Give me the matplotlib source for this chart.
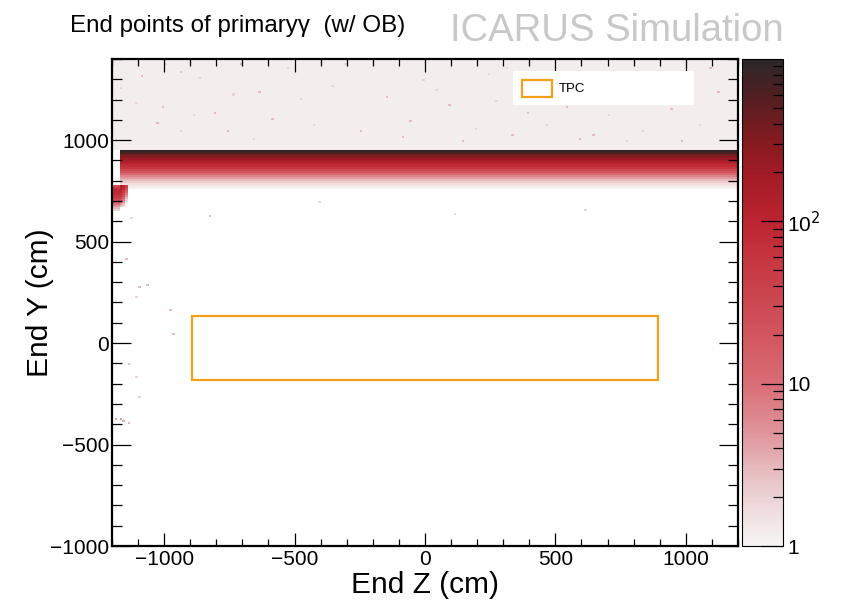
import numpy as np
import matplotlib
matplotlib.use("Agg")
import matplotlib.pyplot as plt
from matplotlib.colors import LinearSegmentedColormap, LogNorm
from matplotlib.patches import Rectangle
from matplotlib.ticker import MultipleLocator, LogLocator, NullFormatter

plt.rcParams['font.family'] = ['Liberation Sans', 'DejaVu Sans']

# ---------------- data ----------------
z_range = (-1200, 1200)
y_range = (-1000, 1400)
z_bin = 10
y_bin = 10

# main band along the top (counts per row, z from band_z_start to end)
band_z_start = -1170
band_row_y = [945, 935, 925, 915, 905, 895, 885, 875, 865, 855,
              845, 835, 825, 815, 805, 795, 785, 775, 765]
band_row_counts = [900, 650, 380, 290, 220, 160, 120, 80, 55, 32,
                   20, 12, 7, 4.5, 3, 2.2, 1.6, 1.3, 1.1]

# vertical part of band at left edge
col_z = [-1165, -1155, -1145]
col_row_y = [775, 765, 755, 745, 735, 725, 715, 705, 695, 685, 675]
col_counts = [[150, 140, 120, 100, 80, 60, 40, 25, 12, 6, 3],
              [100, 90, 70, 50, 35, 25, 15, 8, 5, 3, 2],
              [40, 30, 20, 12, 8, 5, 3, 2, 1.5, 1, 1]]

# stub at the very left
stub_z = [-1195, -1185, -1175]
stub_row_y = [775, 765, 755, 745, 735, 725, 715, 705, 695, 685, 675, 665, 655]
stub_counts = [30, 60, 90, 90, 80, 60, 45, 30, 18, 10, 5, 3, 2]

# sparse halo above the band (mean counts per bin)
halo_y_low = 950
halo_count = 1.2

# visible speckles (z, y, counts)
speck_z = [-932, -862, -1080, -735, -632, -1100, -1003, -881, -805, -651,
           -582, -479, -352, -249, -429, -146, -529, -759, -939, -1027,
           -1169, 395, 467, 544, 701, 644, 835, 950, 1054, 1130,
           314, 337, 989, 774, 594, 0, 100, 200, -50, 250,
           150, 50, -80, 280, -300, -700, 870, 1100, 480, -990,
           -1142, -1092, -1061, -1103, -977, -969, -1130, -1103, -1092, -1180,
           -1165, -1150, -1135, -824, -1120, 620, -400, 120]
speck_y = [1340, 1304, 1313, 1225, 1240, 1190, 1165, 1121, 1140, 1007,
           1106, 1205, 1269, 1042, 1072, 1220, 1353, 1042, 1042, 1081,
           1254, 1131, 1072, 1165, 1121, 1022, 1042, 1155, 1072, 1240,
           1353, 1022, 993, 993, 1007, 1300, 1180, 1060, 1100, 1330,
           1000, 1250, 1020, 1200, 1380, 1380, 1300, 1360, 1280, 1380,
           420, 277, 286, 227, 168, 44, -104, -163, -262, -370,
           -370, -380, -390, 622, 620, 660, 700, 640]
speck_n = [3, 2, 3, 2, 3, 2, 3, 2, 3, 2,
           3, 2, 2, 3, 2, 3, 2, 3, 2, 3,
           2, 3, 2, 3, 2, 3, 2, 3, 2, 3,
           2, 3, 3, 2, 3, 2, 3, 2, 3, 2,
           3, 2, 3, 2, 2, 3, 2, 3, 2, 2,
           3, 3, 3, 2, 3, 3, 3, 2, 2, 4,
           5, 4, 3, 3, 2, 2, 2, 2]

# TPC outline
tpc_z = [-894.95, 894.95]
tpc_y = [-181.86, 134.96]

# colour scale
cbar_ticks = [1, 10, 100]
cbar_ticklabels = ['1', '10', r'10$^{2}$']
count_min, count_max = 1, 1000

# ---------------- build the histogram ----------------
z_edges = np.arange(z_range[0], z_range[1] + z_bin, z_bin)
y_edges = np.arange(y_range[0], y_range[1] + y_bin, y_bin)
zc = 0.5 * (z_edges[:-1] + z_edges[1:])
yc = 0.5 * (y_edges[:-1] + y_edges[1:])
H = np.zeros((len(yc), len(zc)))

H[yc > halo_y_low, :] = halo_count
for y, n in zip(band_row_y, band_row_counts):
    iy = np.argmin(np.abs(yc - y))
    H[iy, zc > band_z_start] = n
for z, counts in zip(col_z, col_counts):
    iz = np.argmin(np.abs(zc - z))
    for y, n in zip(col_row_y, counts):
        iy = np.argmin(np.abs(yc - y))
        H[iy, iz] = max(H[iy, iz], n)
for z in stub_z:
    iz = np.argmin(np.abs(zc - z))
    for y, n in zip(stub_row_y, stub_counts):
        iy = np.argmin(np.abs(yc - y))
        H[iy, iz] = max(H[iy, iz], n)
for z, y, n in zip(speck_z, speck_y, speck_n):
    iz = np.searchsorted(z_edges, z) - 1
    iy = np.searchsorted(y_edges, y) - 1
    H[iy, iz] = max(H[iy, iz], n)

Hm = np.ma.masked_less(H, count_min)

# ---------------- colours ----------------
cmap = LinearSegmentedColormap.from_list('icarus', [
    (0.00, '#f7f5f5'),
    (0.10, '#ecd2d4'),
    (0.16, '#e6b9bc'),
    (0.23, '#df959b'),
    (0.333, '#d96d76'),
    (0.43, '#d2565f'),
    (0.57, '#c63a44'),
    (0.667, '#bc2430'),
    (0.77, '#a01b25'),
    (0.83, '#861a20'),
    (0.93, '#4f1f21'),
    (1.00, '#2a2828'),
])
cmap.set_bad('white')

# ---------------- figure ----------------
fig = plt.figure(figsize=(8.46, 6.03), dpi=100)
ax = fig.add_axes([0.1324, 0.0945, 0.8723 - 0.1324, 0.9022 - 0.0945])
cax = fig.add_axes([0.877, 0.0945, 0.9255 - 0.877, 0.9022 - 0.0945])

norm = LogNorm(vmin=count_min, vmax=count_max)
mesh = ax.pcolormesh(z_edges, y_edges, Hm, cmap=cmap, norm=norm, shading='flat')

ax.add_patch(Rectangle((tpc_z[0], tpc_y[0]), tpc_z[1] - tpc_z[0], tpc_y[1] - tpc_y[0],
                       fill=False, edgecolor='#f5a01a', linewidth=1.6, zorder=3))

ax.set_xlim(*z_range)
ax.set_ylim(*y_range)

ax.xaxis.set_major_locator(MultipleLocator(500))
ax.xaxis.set_minor_locator(MultipleLocator(100))
ax.yaxis.set_major_locator(MultipleLocator(500))
ax.yaxis.set_minor_locator(MultipleLocator(100))
ax.tick_params(axis='x', which='major', direction='in', length=9.5, width=0.9,
               top=True, bottom=True, labelsize=15, pad=3)
ax.tick_params(axis='x', which='minor', direction='in', length=4.7, width=0.9,
               top=True, bottom=True)
ax.tick_params(axis='y', which='major', direction='in', length=14, width=0.9,
               left=True, right=True, labelsize=15, pad=2)
ax.tick_params(axis='y', which='minor', direction='in', length=7, width=0.9,
               left=True, right=True)
for s in ax.spines.values():
    s.set_linewidth(1.6)

ax.set_xlabel('End Z (cm)', fontsize=21.5)
ax.set_ylabel('End Y (cm)', fontsize=21.5)
ax.xaxis.set_label_coords(0.5, -0.080)
ax.xaxis.label.set_va('center')
ax.yaxis.set_label_coords(-0.115, 0.5)
ax.yaxis.label.set_va('center')

# legend
ax.add_patch(Rectangle((0.64, 0.905), 0.29, 0.07, transform=ax.transAxes,
                       facecolor='white', edgecolor='none', zorder=4))
ax.add_patch(Rectangle((0.655, 0.922), 0.048, 0.034, transform=ax.transAxes,
                       facecolor='white', edgecolor='#f5a01a', linewidth=1.6, zorder=5))
ax.text(0.713, 0.939, 'TPC', transform=ax.transAxes, fontsize=9.5,
        va='center', ha='left', zorder=6)

# colorbar
cb = fig.colorbar(mesh, cax=cax)
cb.outline.set_linewidth(0.8)
cb.set_ticks(cbar_ticks)
cb.set_ticklabels(cbar_ticklabels)
cax.yaxis.set_minor_locator(LogLocator(base=10, subs=np.arange(2, 10)))
cax.yaxis.set_minor_formatter(NullFormatter())
cax.tick_params(which='major', direction='in', length=16, width=0.9, labelsize=15, pad=3)
cax.tick_params(which='minor', direction='in', length=7.5, width=0.9)

fig.text(0.083, 0.957, 'End points of primaryγ  (w/ OB)', fontsize=17.4,
         va='center', ha='left')
fig.text(0.532, 0.949, 'ICARUS Simulation', fontsize=27.5, color='#c8c8c8',
         va='center', ha='left')

fig.savefig('out.png', dpi=100)
